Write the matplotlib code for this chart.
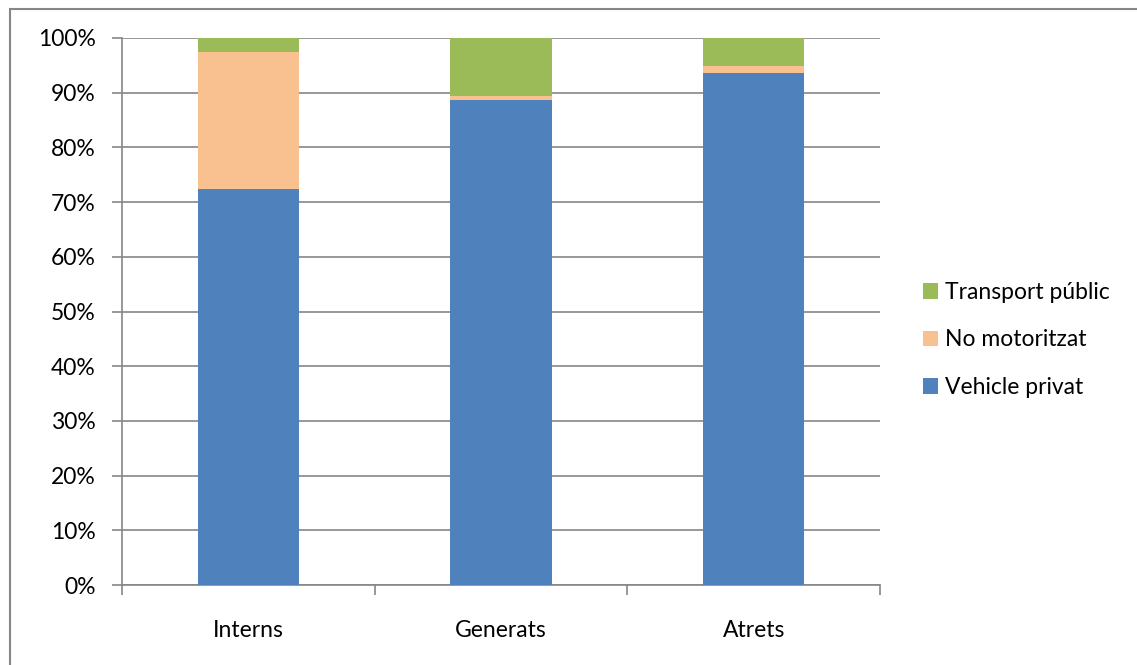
import numpy as np
import matplotlib.pyplot as plt
from matplotlib.patches import Rectangle
from matplotlib.ticker import PercentFormatter

# Dades (percentatges llegits del gràfic)
categories = ['Interns', 'Generats', 'Atrets']
vehicle_privat = [72.4, 88.7, 93.6]
no_motoritzat = [25.0, 0.7, 1.3]
transport_public = [2.6, 10.6, 5.1]

plt.rcParams['font.family'] = ['Lato', 'DejaVu Sans']

fig = plt.figure(figsize=(11.37, 6.65), dpi=100)
ax = fig.add_axes([122 / 1137, 80 / 665, 758 / 1137, 547 / 665])

# marc del gràfic (només superior i esquerre visibles)
fig.patches.append(Rectangle((10 / 1137, -0.1), 1.2, 1.1 - 9 / 665,
                             transform=fig.transFigure, fill=False,
                             edgecolor='#868686', linewidth=1.5))

x = np.arange(len(categories))
w = 0.4
b1 = np.array(vehicle_privat)
b2 = b1 + np.array(no_motoritzat)
ax.bar(x, vehicle_privat, w, color='#4f81bd', label='Vehicle privat', zorder=3)
ax.bar(x, no_motoritzat, w, bottom=b1, color='#f9c090', label='No motoritzat', zorder=3)
ax.bar(x, transport_public, w, bottom=b2, color='#9bbb59', label='Transport públic', zorder=3)

ax.set_xlim(-0.5, len(categories) - 0.5)
ax.set_ylim(0, 100)
ax.set_yticks(np.arange(0, 101, 10))
ax.yaxis.set_major_formatter(PercentFormatter(decimals=0))
ax.yaxis.grid(True, color='#868686', linewidth=1.2, zorder=0)

fs = 16.5
ax.set_xticks(x)
ax.set_xticklabels(categories)
ax.set_xticks(np.arange(-0.5, len(categories), 1), minor=True)
ax.tick_params(axis='x', which='major', length=0, pad=25, labelsize=fs)
ax.tick_params(axis='x', which='minor', length=7, width=1.2, color='#868686', direction='out')
ax.tick_params(axis='y', length=7, width=1.2, color='#868686', direction='out', pad=12, labelsize=fs)

for s in ['top', 'right']:
    ax.spines[s].set_visible(False)
for s in ['left', 'bottom']:
    ax.spines[s].set_color('#868686')
    ax.spines[s].set_linewidth(1.2)

h, l = ax.get_legend_handles_labels()
ax.legend(h[::-1], l[::-1], loc='center left', bbox_to_anchor=(902 / 1137, 1 - 340 / 665),
          bbox_transform=fig.transFigure, frameon=False, fontsize=fs,
          handlelength=0.66, handleheight=0.66, handletextpad=0.3, labelspacing=1.15)

fig.savefig('out.png', dpi=100)
